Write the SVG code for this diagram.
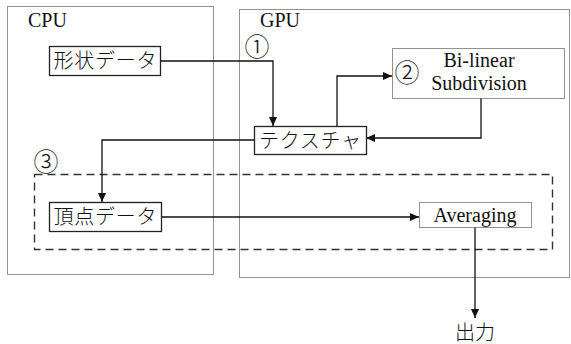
<svg xmlns="http://www.w3.org/2000/svg" width="571" height="344" viewBox="0 0 571 344">
  <style>
    .region { fill: none; stroke: #222; stroke-width: 1; stroke-dasharray: 1 1; }
    .group3 { fill: none; stroke: #333; stroke-width: 1.4; stroke-dasharray: 8 5; }
    .box { fill: #fff; stroke: #222; stroke-width: 1.3; }
    .dbox { fill: #fff; stroke: #222; stroke-width: 1; stroke-dasharray: 1 1; }
    .lat { font-family: "Liberation Serif", "Times New Roman", serif; font-size: 20px; fill: #111; }
    .jp { font-family: "Liberation Serif", "Noto Sans CJK JP", sans-serif; font-size: 20px; font-weight: 300; fill: #111; }
    .num { font-family: "Noto Sans CJK JP", sans-serif; font-size: 25px; font-weight: 300; fill: #111; }
    .wire { fill: none; stroke: #111; stroke-width: 1.3; marker-end: url(#arrow); }
  </style>
  <defs>
    <marker id="arrow" markerUnits="userSpaceOnUse" markerWidth="10" markerHeight="8" refX="9" refY="4" orient="auto">
      <path d="M0,0 L9,4 L0,8 z" fill="#111"/>
    </marker>
  </defs>

  <rect width="571" height="344" fill="#fff"/>

  <!-- processing regions -->
  <g id="cpu">
    <rect class="region" x="7.5" y="6.5" width="206" height="268"/>
    <text class="lat" x="28" y="27">CPU</text>
  </g>
  <g id="gpu">
    <rect class="region" x="239.5" y="9.5" width="330" height="268"/>
    <text class="lat" x="260" y="27">GPU</text>
  </g>
  <g id="step3">
    <rect class="group3" x="34.5" y="174.5" width="518" height="75"/>
    <text class="num" x="46" y="171" text-anchor="middle">③</text>
  </g>

  <!-- connectors -->
  <g id="connectors">
    <path class="wire" d="M160,61 H273 V126"/>
    <path class="wire" d="M337,126 V76 H392"/>
    <path class="wire" d="M481,98 V138 H366"/>
    <path class="wire" d="M254,140 H102 V202"/>
    <path class="wire" d="M161,217 H419"/>
    <path class="wire" d="M475,227 V318"/>
  </g>

  <!-- nodes -->
  <g id="shape-data">
    <rect class="box" x="49.5" y="46.5" width="111" height="29"/>
    <text class="jp" x="105" y="68" text-anchor="middle" textLength="103" lengthAdjust="spacing">形状データ</text>
  </g>
  <g id="step1">
    <text class="num" x="257" y="56" text-anchor="middle">①</text>
  </g>
  <g id="texture">
    <rect class="box" x="254.5" y="126.5" width="112" height="28"/>
    <text class="jp" x="310" y="148" text-anchor="middle" textLength="102" lengthAdjust="spacing">テクスチャ</text>
  </g>
  <g id="subdivision">
    <rect class="dbox" x="392.5" y="48.5" width="172" height="50"/>
    <text class="num" x="407" y="82" text-anchor="middle">②</text>
    <text class="lat" x="479" y="67" text-anchor="middle">Bi-linear</text>
    <text class="lat" x="479" y="90" text-anchor="middle">Subdivision</text>
  </g>
  <g id="vertex-data">
    <rect class="box" x="49.5" y="202.5" width="112" height="29"/>
    <text class="jp" x="105" y="224" text-anchor="middle" textLength="103" lengthAdjust="spacing">頂点データ</text>
  </g>
  <g id="averaging">
    <rect class="dbox" x="419.5" y="202.5" width="112" height="25"/>
    <text class="lat" x="475" y="222" text-anchor="middle">Averaging</text>
  </g>
  <g id="output">
    <text class="jp" x="475" y="340" text-anchor="middle">出力</text>
  </g>
</svg>
